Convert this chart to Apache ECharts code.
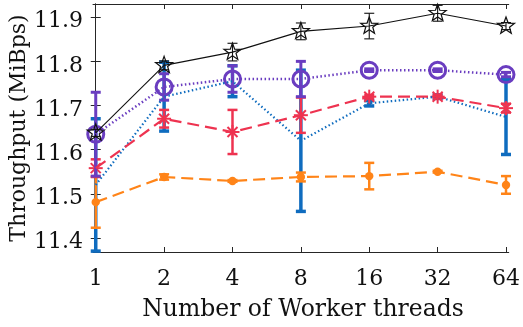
<!DOCTYPE html>
<html><head><meta charset="utf-8">
<script src="https://cdn.jsdelivr.net/npm/echarts@6/dist/echarts.min.js"></script>
<style>html,body{margin:0;padding:0;background:#fff}#c{width:523px;height:327px}</style>
</head><body><div id="c"></div>
<script>
const categories = ['1','2','4','8','16','32','64'];
const yTicks = [11.4, 11.5, 11.6, 11.7, 11.8, 11.9];
const blackVals  = [11.638, 11.791, 11.821, 11.868, 11.880, 11.909, 11.880];
const blackErr   = [0.008, 0.010, 0.020, 0.019, 0.029, 0.018, 0.008];
const purpleVals = [11.635, 11.742, 11.760, 11.760, 11.780, 11.780, 11.770];
const purpleErr  = [0.095, 0.030, 0.030, 0.040, 0.003, 0.003, 0.005];
const blueVals   = [11.520, 11.720, 11.755, 11.620, 11.705, 11.720, 11.674];
const blueErr    = [0.150, 0.078, 0.035, 0.160, 0.006, 0.004, 0.085];
const redVals    = [11.558, 11.670, 11.640, 11.678, 11.720, 11.720, 11.694];
const redErr     = [0.020, 0.020, 0.050, 0.040, 0.004, 0.004, 0.010];
const orangeVals = [11.481, 11.538, 11.529, 11.538, 11.540, 11.550, 11.520];
const orangeErr  = [0.058, 0.006, 0.002, 0.010, 0.030, 0.002, 0.020];

const FONT = 'DejaVu Serif';
const C = {black:'#111111', purple:'#6A3DC0', blue:'#0F6CBF', red:'#EE3350', orange:'#FF8418'};

function starPoints(cx, cy, R, r) {
  const pts = [];
  for (let k = 0; k < 10; k++) {
    const a = -Math.PI/2 + k*Math.PI/5;
    const rad = k % 2 === 0 ? R : r;
    pts.push([cx + rad*Math.cos(a), cy + rad*Math.sin(a)]);
  }
  return pts;
}

function markerShapes(kind, x, y, color) {
  if (kind === 'star') {
    return [{type:'polygon', shape:{points: starPoints(x, y, 9, 3.7)}, style:{stroke:color, lineWidth:1.2, fill:'none'}}];
  }
  if (kind === 'circle') {
    return [{type:'circle', shape:{cx:x, cy:y, r:8}, style:{stroke:color, lineWidth:3, fill:'none'}}];
  }
  if (kind === 'asterisk') {
    const r = 7, d = 5;
    const s = {stroke:color, lineWidth:2};
    return [
      {type:'line', shape:{x1:x, y1:y-r, x2:x, y2:y+r}, style:s},
      {type:'line', shape:{x1:x-r, y1:y, x2:x+r, y2:y}, style:s},
      {type:'line', shape:{x1:x-d, y1:y-d, x2:x+d, y2:y+d}, style:s},
      {type:'line', shape:{x1:x-d, y1:y+d, x2:x+d, y2:y-d}, style:s}
    ];
  }
  if (kind === 'dot') {
    return [{type:'circle', shape:{cx:x, cy:y, r:4.2}, style:{fill:color}}];
  }
  return [];
}

function errSeries(vals, errs, color, barW, capW, marker) {
  return {
    type:'custom', clip:false,
    data: vals.map((v, i) => [i, v, errs[i]]),
    renderItem: (params, api) => {
      const i = api.value(0), v = api.value(1), e = api.value(2);
      const p = api.coord([i, v]);
      const t = api.coord([i, v + e]);
      const b = api.coord([i, v - e]);
      const st = {stroke:color, lineWidth:barW};
      const ch = [
        {type:'line', shape:{x1:p[0], y1:t[1], x2:p[0], y2:b[1]}, style:st},
        {type:'line', shape:{x1:p[0]-capW, y1:t[1], x2:p[0]+capW, y2:t[1]}, style:st},
        {type:'line', shape:{x1:p[0]-capW, y1:b[1], x2:p[0]+capW, y2:b[1]}, style:st}
      ].concat(markerShapes(marker, p[0], p[1], color));
      return {type:'group', children: ch};
    }
  };
}

function lineSeries(vals, color, width, type) {
  return {
    type:'line', data: vals.map((v, i) => [i, v]), symbol:'none',
    lineStyle:{color, width, type, cap:'butt'}, silent:true
  };
}

const chart = echarts.init(document.getElementById('c'));
const axisLineStyle = {color:'#262626', width:1};
chart.setOption({
  animation:false,
  grid:{left:93, right:9, top:4, bottom:75},
  xAxis:[{
    type:'value', min:-0.04, max:6.04, position:'bottom',
    axisLine:{show:true, lineStyle:axisLineStyle},
    axisTick:{show:true, inside:true, length:5, lineStyle:axisLineStyle, customValues:[0,1,2,3,4,5,6]},
    axisLabel:{customValues:[0,1,2,3,4,5,6], formatter:(v)=>categories[Math.round(v)], fontFamily:FONT, fontSize:22, color:'#111', margin:16},
    splitLine:{show:false}
  },{
    type:'value', min:-0.04, max:6.04, position:'top',
    axisLine:{show:true, lineStyle:axisLineStyle},
    axisTick:{show:true, inside:true, length:5, lineStyle:axisLineStyle, customValues:[0,1,2,3,4,5,6]},
    axisLabel:{show:false}, splitLine:{show:false}
  }],
  yAxis:[{
    type:'value', min:11.368, max:11.93, position:'left',
    axisLine:{show:true, lineStyle:axisLineStyle},
    axisTick:{show:true, inside:true, length:5, lineStyle:axisLineStyle, customValues:yTicks},
    axisLabel:{customValues:yTicks, formatter:(v)=>'{a|' + v.toFixed(1) + '}', margin:10,
      rich:{a:{fontFamily:FONT, fontSize:22, color:'#111', padding:[9,0,0,0]}}},
    splitLine:{show:false}
  },{
    type:'value', min:11.368, max:11.93, position:'right',
    axisLine:{show:true, lineStyle:axisLineStyle},
    axisTick:{show:true, inside:true, length:5, lineStyle:axisLineStyle, customValues:yTicks},
    axisLabel:{show:false}, splitLine:{show:false}
  }],
  graphic:[
    {type:'text', x:19, y:128, rotation:Math.PI/2, style:{text:'Throughput (MiBps)', font:'22px "DejaVu Serif"', fill:'#111', textAlign:'center', textVerticalAlign:'middle'}},
    {type:'text', x:303, y:310, style:{text:'Number of Worker threads', font:'23.5px "DejaVu Serif"', fill:'#111', textAlign:'center', textVerticalAlign:'middle'}}
  ],
  series:[
    lineSeries(blueVals, C.blue, 2.2, [1.5, 2.5]),
    errSeries(blueVals, blueErr, C.blue, 3.5, 5, 'none'),
    lineSeries(orangeVals, C.orange, 2.2, [12, 6]),
    errSeries(orangeVals, orangeErr, C.orange, 2.5, 5, 'dot'),
    lineSeries(redVals, C.red, 2.2, [12, 6]),
    errSeries(redVals, redErr, C.red, 2.5, 5, 'asterisk'),
    lineSeries(purpleVals, C.purple, 2.5, [1.5, 2.5]),
    errSeries(purpleVals, purpleErr, C.purple, 3, 5, 'circle'),
    lineSeries(blackVals, C.black, 1.1, 'solid'),
    errSeries(blackVals, blackErr, C.black, 1.1, 5, 'star')
  ]
});
</script>
</body></html>
